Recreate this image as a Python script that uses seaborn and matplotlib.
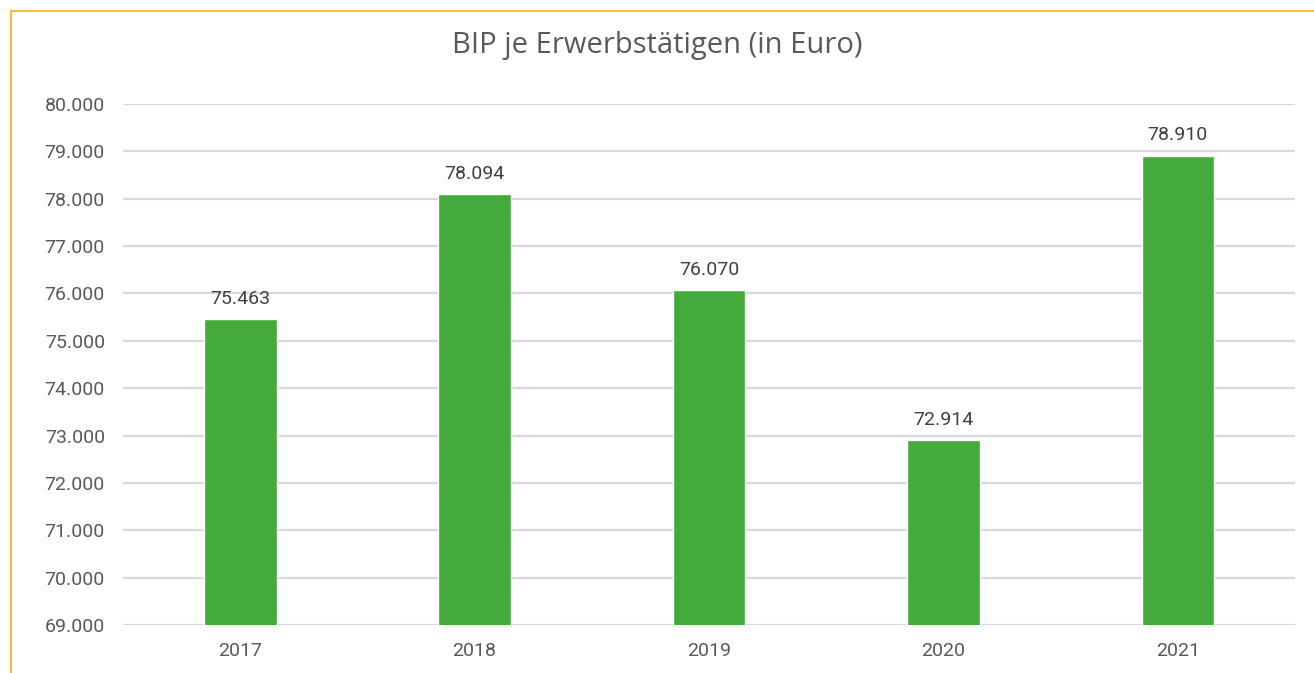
import pandas as pd
import seaborn as sns
import matplotlib.pyplot as plt
from matplotlib.patches import Rectangle
from matplotlib.ticker import FuncFormatter

# Data
years = ['2017', '2018', '2019', '2020', '2021']
bip = [75463, 78094, 76070, 72914, 78910]
yticks = list(range(69000, 80001, 1000))

df = pd.DataFrame({'Jahr': years, 'BIP': bip})

sns.set_style('white')
plt.rcParams['font.family'] = ['Roboto', 'DejaVu Sans']

fig = plt.figure(figsize=(13.14, 6.73), dpi=100)
ax = fig.add_axes([0.0936, 0.0713, 0.892, 0.7742])

sns.barplot(data=df, x='Jahr', y='BIP', order=years, color='#43AA3B',
            saturation=1, width=0.31, ax=ax, zorder=3)

ax.set_ylim(69000, 80000)
ax.set_yticks(yticks)
ax.yaxis.set_major_formatter(FuncFormatter(lambda v, p: f'{int(v):,}'.replace(',', '.')))
ax.set_xlim(-0.5, len(years) - 0.5)
ax.grid(axis='y', color='#D9D9D9', linewidth=1.6, zorder=0)
ax.set_axisbelow(True)
sns.despine(ax=ax, left=True, bottom=True, top=True, right=True)
ax.tick_params(axis='both', length=0, labelsize=14, labelcolor='#595959')
ax.tick_params(axis='y', pad=13)
ax.tick_params(axis='x', pad=12)
ax.set_xlabel('')
ax.set_ylabel('')

for i, v in enumerate(bip):
    ax.annotate(f'{v:,}'.replace(',', '.'), (i, v), xytext=(0, 8),
                textcoords='offset points', ha='center', va='bottom',
                fontsize=14, color='#404040')

fig.text(0.5, 0.933, 'BIP je Erwerbstätigen (in Euro)', ha='center', va='center',
         fontsize=21, color='#595959', family=['Open Sans', 'DejaVu Sans'])

# chart frame
fig.patches.append(Rectangle((11 / 1314, -0.05), 1.2, 1 - 11 / 673 + 0.05,
                             transform=fig.transFigure, fill=False,
                             edgecolor='#F5BE3C', linewidth=1.5))

fig.savefig('out.png', dpi=100, facecolor='white')
